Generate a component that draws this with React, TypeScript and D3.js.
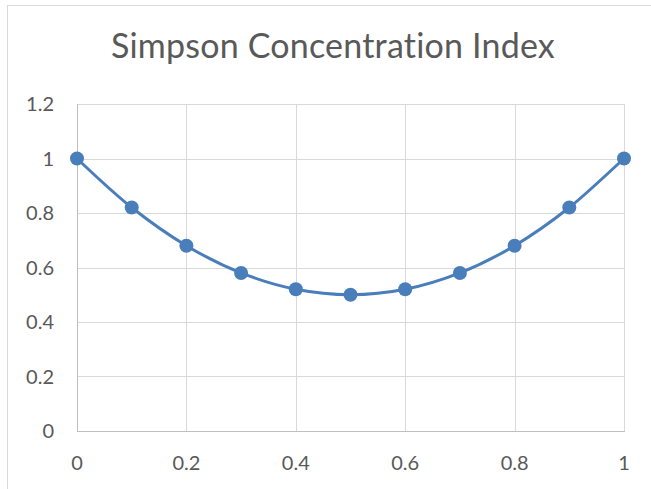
import { useEffect, useRef } from "react";
import * as d3 from "d3";

const xValues = [0, 0.1, 0.2, 0.3, 0.4, 0.5, 0.6, 0.7, 0.8, 0.9, 1];
const yValues = [1, 0.82, 0.68, 0.58, 0.52, 0.5, 0.52, 0.58, 0.68, 0.82, 1];
const xTicks = [0, 0.2, 0.4, 0.6, 0.8, 1];
const yTicks = [0, 0.2, 0.4, 0.6, 0.8, 1, 1.2];
const title = "Simpson Concentration Index";

const W = 651;
const H = 489;
const FONT = "Lato, 'Open Sans', sans-serif";

export default function App() {
  const ref = useRef<SVGSVGElement>(null);

  useEffect(() => {
    const svg = d3.select(ref.current);
    svg.selectAll("*").remove();

    // chart frame (bleeds off right/bottom edges like the screenshot)
    svg
      .append("rect")
      .attr("x", 7.5)
      .attr("y", 5.5)
      .attr("width", W + 20)
      .attr("height", H + 20)
      .attr("fill", "#fff")
      .attr("stroke", "#d9d9d9");

    const margin = { left: 77, top: 104, right: 624, bottom: 431 };
    const x = d3.scaleLinear().domain([0, 1]).range([margin.left, margin.right]);
    const y = d3.scaleLinear().domain([0, 1.2]).range([margin.bottom, margin.top]);

    svg
      .append("text")
      .attr("x", 333)
      .attr("y", 58)
      .attr("text-anchor", "middle")
      .attr("font-family", FONT)
      .attr("font-size", 34)
      .attr("letter-spacing", 0.2)
      .style("font-variant-ligatures", "none")
      .attr("fill", "#595959")
      .text(title);

    const g = svg.append("g");

    // gridlines
    g.selectAll("line.hgrid")
      .data(yTicks.filter((t) => t > 0))
      .join("line")
      .attr("x1", margin.left)
      .attr("x2", margin.right)
      .attr("y1", (d) => Math.round(y(d)) + 0.5)
      .attr("y2", (d) => Math.round(y(d)) + 0.5)
      .attr("stroke", "#d9d9d9");

    g.selectAll("line.vgrid")
      .data(xTicks.filter((t) => t > 0))
      .join("line")
      .attr("x1", (d) => Math.round(x(d)) + 0.5)
      .attr("x2", (d) => Math.round(x(d)) + 0.5)
      .attr("y1", margin.top)
      .attr("y2", margin.bottom)
      .attr("stroke", "#d9d9d9");

    // axis lines
    g.append("line")
      .attr("x1", margin.left + 0.5)
      .attr("x2", margin.left + 0.5)
      .attr("y1", margin.top)
      .attr("y2", margin.bottom)
      .attr("stroke", "#bfbfbf");
    g.append("line")
      .attr("x1", margin.left)
      .attr("x2", margin.right + 1)
      .attr("y1", margin.bottom + 0.5)
      .attr("y2", margin.bottom + 0.5)
      .attr("stroke", "#bfbfbf");

    // tick labels
    g.selectAll("text.ylab")
      .data(yTicks)
      .join("text")
      .attr("x", 54)
      .attr("y", (d) => y(d))
      .attr("dy", "0.36em")
      .attr("text-anchor", "end")
      .attr("font-family", FONT)
      .attr("font-size", 20)
      .attr("fill", "#595959")
      .text((d) => String(d));

    g.selectAll("text.xlab")
      .data(xTicks)
      .join("text")
      .attr("x", (d) => x(d))
      .attr("y", 470)
      .attr("text-anchor", "middle")
      .attr("font-family", FONT)
      .attr("font-size", 20)
      .attr("fill", "#595959")
      .text((d) => String(d));

    // smoothed line
    const pts = xValues.map((v, i) => [v, yValues[i]] as [number, number]);
    const line = d3
      .line<[number, number]>()
      .x((d) => x(d[0]))
      .y((d) => y(d[1]))
      .curve(d3.curveCatmullRom.alpha(0.5));

    g.append("path")
      .datum(pts)
      .attr("d", line)
      .attr("fill", "none")
      .attr("stroke", "#4a7ebb")
      .attr("stroke-width", 3)
      .attr("stroke-linecap", "round");

    g.selectAll("circle")
      .data(pts)
      .join("circle")
      .attr("cx", (d) => x(d[0]))
      .attr("cy", (d) => y(d[1]))
      .attr("r", 7)
      .attr("fill", "#4a7ebb");
  }, []);

  return (
    <svg
      ref={ref}
      width={W}
      height={H}
      style={{ position: "absolute", left: 0, top: 0, display: "block" }}
    />
  );
}
